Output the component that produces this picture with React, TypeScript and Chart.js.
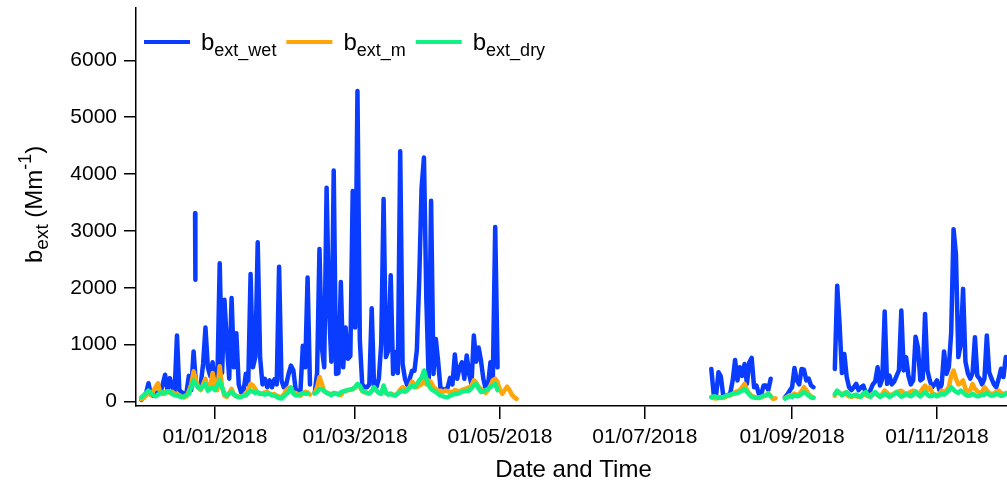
import React, { useEffect, useRef } from "react";
import { Chart, registerables } from "chart.js";

Chart.register(...registerables);

// ---------- data ----------
const ORIGIN = "2017-12-01";
// start date of each continuous measurement block (daily values follow)
const segmentStarts = ["2017-12-01", "2018-07-29", "2018-08-29", "2018-09-19"];

// b_ext_wet (Mm-1), daily
const wetSeg1 = [
  30, 80, 150, 320, 120, 100, 150, 160, 150, 300,
  470, 200, 410, 250, 160, 1160, 200, 160, 130, 150,
  450, 200, 880, 300, 250, 300, 660, 1300, 600, 450,
  690, 250, 350, 2430, 500, 1790, 1010, 400, 1820, 600,
  1200, 300, 160, 170, 485, 300, 2240, 600, 780, 2800,
  780, 300, 400, 250, 370, 250, 390, 300, 2370, 370,
  250, 300, 485, 630, 550, 200, 190, 190, 980, 600,
  2180, 300, null, 150, 500, 2680, 950, 600, 3760, 1650,
  700, 4060, 485, 500, 2100, 600, 1300, 750, 800, 3700,
  1300, 5460, 1070, 300, 250, 250, 300, 1640, 250, 250,
  400, 1010, 3560, 780, 900, 2220, 485, 870, 500, 4400,
  660, 400, 280, 400, 540, 540, 900, 2140, 3760, 4290,
  1800, 370, 3530, 485, 1100, 690, 220, 220, 200, 250,
  415, 300, 825, 400, 600, 690, 400, 810, 485, 300,
  1160, 700, 950, 720, 400, 220, 300, 690, 400, 3070, 600,
];
const wetSeg2 = [
  570, 120, 100, 515, 440, 105, 100, 105, 150, 370,
  730, 370, 600, 450, 660, 310, 690, 765, 250, 280,
  135, 120, 280, 280, 200, 400,
];
const wetSeg3 = [75, 120, 190, 250, 590, 370, 300, 570, 560, 370, 400, 280, 250];
const wetSeg4 = [
  570, 2035, 1360, 500, 835, 430, 250, 200, 250, 310,
  200, 250, 280, 150, 130, 200, 300, 350, 600, 280,
  400, 1580, 310, 455, 300, 350, 450, 545, 1600, 545,
  780, 450, 300, 370, 1140, 950, 370, 400, 1540, 545,
  370, 250, 300, 370, 200, 300, 880, 485, 600, 1215,
  3030, 2590, 780, 1000, 1980, 700, 500, 400, 500, 1130,
  450, 400, 300, 400, 1160, 515, 400, 300, 250, 400,
  575, 430, 780,
];
// short isolated wet burst (times and values)
const wetBurstTimes = ["2017-12-23T15:00", "2017-12-23T18:00"];
const wetBurstValues = [3310, 2140];

// b_ext_m (Mm-1), daily
const mSeg1 = [
  40, 60, 110, 140, 120, 180, 250, 320, 150, 130,
  160, 180, 150, 170, 140, 130, 110, 80, 70, 90,
  180, 300, 530, 370, 250, 200, 300, 400, 220, 250,
  500, 300, 200, 620, 250, 100, 80, 150, 220, 120,
  100, 80, 90, 100, 150, 200, 310, 280, 220, 150,
  130, 140, 160, 170, 140, 120, 130, 100, 90, 80,
  120, 200, 240, 180, 160, 150, 120, 100, 140, 170,
  160, 120, null, 150, 250, 430, 310, 180, 160, 140,
  120, 150, 140, 130, 110, 170, 180, 200, 200, 220,
  240, 290, 260, 180, 160, 150, 140, 180, 240, 190,
  150, 140, 260, 150, 130, 140, 120, 110, 150, 210,
  250, 230, 200, 260, 350, 300, 250, 280, 300, 370,
  300, 370, 340, 250, 220, 180, 190, 170, 190, 180,
  170, 160, 200, 190, 180, 200, 220, 230, 250, 280,
  370, 330, 260, 220, 180, 150, 200, 280, 370, 400,
  340, 200, 135, 200, 260, 200, 120, 75, 45,
];
const mSeg2 = [
  75, 60, 50, 80, 70, 60, 80, 100, 110, 130,
  165, 180, 200, 250, 310, 200, 140, 100, 80, 70,
  60, 75, 90, 110, 145, 90, 45, 55,
];
const mSeg3 = [60, 80, 110, 100, 140, 110, 130, 180, 250, 200, 130, 90, 70];
const mSeg4 = [
  100, 180, 150, 110, 150, 120, 90, 80, 100, 90,
  80, 100, 140, 110, 90, 110, 140, 150, 110, 100,
  130, 190, 150, 120, 110, 140, 165, 180, 190, 150,
  130, 150, 170, 190, 180, 140, 160, 230, 280, 200,
  250, 150, 120, 110, 130, 190, 160, 200, 250, 450,
  545, 400, 300, 320, 370, 220, 180, 200, 310, 220,
  180, 150, 170, 250, 200, 150, 130, 140, 170, 190,
  150, 130, 150,
];

// b_ext_dry (Mm-1), daily
const drySeg1 = [
  75, 110, 150, 190, 140, 110, 90, 120, 150, 165,
  140, 170, 180, 130, 110, 105, 90, 75, 90, 110,
  130, 250, 370, 300, 240, 220, 260, 310, 190, 220,
  250, 200, 280, 370, 250, 130, 110, 140, 165, 120,
  90, 75, 80, 100, 105, 150, 190, 170, 150, 165,
  140, 130, 120, 135, 130, 110, 105, 80, 60, 50,
  90, 130, 165, 250, 135, 105, 110, 130, 150, 135,
  140, null, null, 140, 165, 220, 220, 180, 150, 130,
  110, 150, 135, 120, 160, 180, 190, 200, 210, 220,
  250, 310, 280, 190, 170, 150, 140, 180, 250, 200,
  150, 135, 280, 150, 120, 130, 110, 105, 140, 170,
  190, 170, 200, 240, 280, 250, 300, 370, 420, 545,
  400, 280, 220, 190, 165, 130, 105, 90, 80, 75,
  100, 120, 130, 135, 150, 170, 180, 190, 190, 230,
  280, 310, 230, 165, 180, 200, 220, 250, 280, 310, 200,
];
const drySeg2 = [
  75, 90, 85, 60, 70, 80, 90, 110, 120, 135,
  140, 150, 165, 190, 220, 170, 120, 80, 70, 60,
  70, 80, 100, 105, 135, 90,
];
const drySeg3 = [50, 70, 90, 80, 110, 90, 100, 130, 165, 140, 100, 70, 60];
const drySeg4 = [
  130, 190, 150, 110, 130, 165, 120, 90, 110, 120,
  95, 80, 130, 165, 110, 80, 120, 165, 120, 80,
  100, 135, 110, 80, 100, 130, 165, 120, 85, 100,
  135, 110, 90, 120, 165, 120, 90, 130, 165, 120,
  90, 100, 120, 90, 110, 135, 120, 150, 190, 250,
  210, 170, 150, 190, 160, 120, 100, 110, 135, 110,
  90, 100, 120, 120, 150, 120, 100, 110, 135, 120,
  100, 110, 130,
];

const xTickDates = ["2018-01-01", "2018-03-01", "2018-05-01", "2018-07-01", "2018-09-01", "2018-11-01"];
const xTickLabels = ["01/01/2018", "01/03/2018", "01/05/2018", "01/07/2018", "01/09/2018", "01/11/2018"];
const xAxisStart = "2017-11-28T18:00";
const xAxisEnd = "2018-11-30T12:00";
const yTicks = [0, 1000, 2000, 3000, 4000, 5000, 6000];
const yMin = -80;
const yMax = 6920;

const COLORS = { wet: "#0a3cff", m: "#ffa50a", dry: "#10f285" };
const legendItems = [
  { color: COLORS.wet, sub: "ext_wet" },
  { color: COLORS.m, sub: "ext_m" },
  { color: COLORS.dry, sub: "ext_dry" },
];

// ---------- helpers ----------
const FONT = '"Liberation Sans", Arial, Helvetica, sans-serif';
function dayNum(s: string): number {
  const iso = s.length === 10 ? s + "T00:00:00Z" : s + ":00Z";
  return (Date.parse(iso) - Date.parse(ORIGIN + "T00:00:00Z")) / 86400000;
}
function buildSeries(segs: (number | null)[][]) {
  const pts: { x: number; y: number | null }[] = [];
  segs.forEach((vals, k) => {
    const s = dayNum(segmentStarts[k]);
    if (k > 0) pts.push({ x: s - 0.5, y: null });
    vals.forEach((v, j) => pts.push({ x: s + j, y: v }));
  });
  return pts;
}

const textPlugin = {
  id: "customTexts",
  afterDraw(chart: any) {
    const ctx: CanvasRenderingContext2D = chart.ctx;
    const area = chart.chartArea;
    ctx.save();
    ctx.textBaseline = "alphabetic";
    ctx.textAlign = "left";
    ctx.fillStyle = "#000";
    // legend
    let x = area.left + 8;
    const ly = 42;
    legendItems.forEach((it) => {
      ctx.strokeStyle = it.color;
      ctx.lineWidth = 4;
      ctx.lineCap = "butt";
      ctx.beginPath();
      ctx.moveTo(x, ly);
      ctx.lineTo(x + 46, ly);
      ctx.stroke();
      x += 46 + 11;
      ctx.font = "24px " + FONT;
      ctx.fillText("b", x, 50);
      x += ctx.measureText("b").width;
      ctx.font = "18px " + FONT;
      ctx.fillText(it.sub, x, 56);
      x += ctx.measureText(it.sub).width + 10;
    });
    // x title
    ctx.font = "24px " + FONT;
    ctx.textAlign = "center";
    ctx.fillText("Date and Time", (area.left + area.right) / 2 + 2, 477);
    // y title (rotated)
    ctx.textAlign = "left";
    ctx.translate(42, 263);
    ctx.rotate(-Math.PI / 2);
    let t = 0;
    ctx.font = "24px " + FONT;
    ctx.fillText("b", t, 0);
    t += ctx.measureText("b").width;
    ctx.font = "19px " + FONT;
    ctx.fillText("ext", t, 6);
    t += ctx.measureText("ext").width;
    ctx.font = "24px " + FONT;
    ctx.fillText(" (Mm", t, 0);
    t += ctx.measureText(" (Mm").width;
    ctx.font = "18px " + FONT;
    ctx.fillText("-1", t, -11);
    t += ctx.measureText("-1").width;
    ctx.font = "24px " + FONT;
    ctx.fillText(")", t, 0);
    ctx.restore();
  },
};

export default function App() {
  const ref = useRef<HTMLCanvasElement | null>(null);
  useEffect(() => {
    if (!ref.current) return;
    const wetBurst = wetBurstTimes.map((t, i) => ({ x: dayNum(t), y: wetBurstValues[i] }));
    const lineDs = (label: string, data: any, color: string, order: number) => ({
      label,
      data,
      borderColor: color,
      backgroundColor: color,
      borderWidth: 4.5,
      pointRadius: 0,
      tension: 0,
      spanGaps: false,
      borderJoinStyle: "round" as const,
      borderCapStyle: "round" as const,
      order,
    });
    const xTickVals = xTickDates.map(dayNum);
    const chart = new Chart(ref.current, {
      type: "line",
      data: {
        datasets: [
          lineDs("b_ext_dry", buildSeries([drySeg1, drySeg2, drySeg3, drySeg4]), COLORS.dry, 0),
          lineDs("b_ext_m", buildSeries([mSeg1, mSeg2, mSeg3, mSeg4]), COLORS.m, 1),
          lineDs("b_ext_wet", buildSeries([wetSeg1, wetSeg2, wetSeg3, wetSeg4]), COLORS.wet, 2),
          lineDs("b_ext_wet burst", wetBurst, COLORS.wet, 3),
        ],
      },
      options: {
        responsive: false,
        animation: false,
        devicePixelRatio: 1,
        layout: { padding: { top: 8, right: 0, left: 0, bottom: 0 } },
        plugins: { legend: { display: false }, tooltip: { enabled: false } },
        scales: {
          x: {
            type: "linear",
            position: "bottom",
            min: dayNum(xAxisStart),
            max: dayNum(xAxisEnd),
            afterFit: (s: any) => {
              s.height = 77;
              s.paddingLeft = 0;
              s.paddingRight = 0;
            },
            afterBuildTicks: (s: any) => {
              s.ticks = xTickVals.map((v) => ({ value: v }));
            },
            ticks: {
              autoSkip: false,
              maxRotation: 0,
              minRotation: 0,
              color: "#000",
              padding: 6,
              font: { family: FONT, size: 21 },
              callback: (_v: any, i: number) => xTickLabels[i],
            },
            grid: { drawOnChartArea: false, drawTicks: true, tickLength: 13, color: "#000", lineWidth: 1.5 },
            border: { display: true, color: "#000", width: 1.5 },
          },
          y: {
            type: "linear",
            min: yMin,
            max: yMax,
            afterFit: (s: any) => {
              s.width = 136;
              s.paddingTop = 0;
              s.paddingBottom = 0;
            },
            afterBuildTicks: (s: any) => {
              s.ticks = yTicks.map((v) => ({ value: v }));
            },
            ticks: {
              color: "#000",
              padding: 7,
              font: { family: FONT, size: 21 },
              callback: (v: any) => String(v),
            },
            grid: { drawOnChartArea: false, drawTicks: true, tickLength: 12, color: "#000", lineWidth: 1.5 },
            border: { display: true, color: "#000", width: 1.5 },
          },
        },
      },
      plugins: [textPlugin],
    });
    return () => chart.destroy();
  }, []);
  return (
    <div style={{ position: "absolute", left: 0, top: 0, width: 1007, height: 483, background: "#fff" }}>
      <canvas ref={ref} width={1007} height={483} style={{ display: "block" }} />
    </div>
  );
}
